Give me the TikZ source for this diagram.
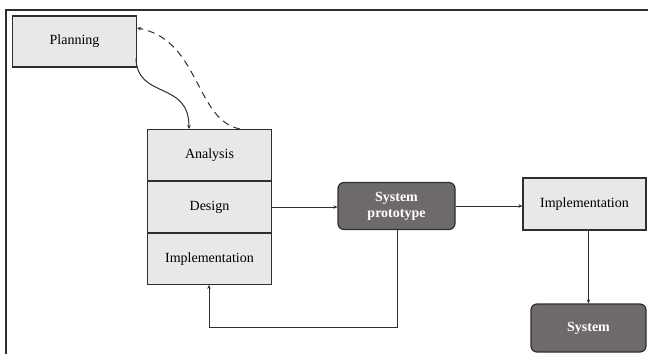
\documentclass[tikz,border=0pt]{standalone}
\usepackage{fontspec}
\setmainfont{Liberation Serif}
\usetikzlibrary{arrows.meta}
\definecolor{lightbox}{HTML}{E8E8E8}
\definecolor{darkbox}{HTML}{6E6A6A}
\definecolor{edge}{HTML}{2E2E2E}
\begin{document}
\begin{tikzpicture}[x=1pt,y=-1pt,
  lbox/.style={draw=edge,line width=1.2pt,fill=lightbox,inner sep=0pt,font=\fontsize{14}{16}\selectfont},
  dbox/.style={draw=edge,line width=1.2pt,fill=darkbox,rounded corners=6pt,inner sep=0pt,text=white,font=\bfseries\fontsize{14}{17}\selectfont,align=center},
  conn/.style={draw=edge,line width=1pt,-{Stealth[length=4pt,width=3.5pt]}},
  framel/.style={draw=edge,line width=1.4pt}]
\useasboundingbox (0,0) rectangle (648,354);
\draw[framel] (6,354) -- (6,10) -- (648,10);
\node[lbox,minimum width=124pt,minimum height=51pt] (plan) at (74.5,41.5) {Planning};
\node[lbox,minimum width=124pt,minimum height=51.5pt] (ana) at (209.5,155) {Analysis};
\node[lbox,minimum width=124pt,minimum height=51pt] (des) at (209.5,207) {Design};
\node[lbox,minimum width=124pt,minimum height=51pt] (imp) at (209.5,258.8) {Implementation};
\node[dbox,minimum width=117pt,minimum height=47pt] (proto) at (396.5,206) {System\\[-1pt]prototype};
\node[lbox,minimum width=123pt,minimum height=52pt] (imp2) at (584.5,204) {Implementation};
\node[dbox,minimum width=115pt,minimum height=48pt] (sys) at (588.5,328) {System};
\coordinate (c1) at (136,58);
\coordinate (c2) at (189,129);
\coordinate (d1) at (240,129);
\coordinate (d2) at (137,28);
\coordinate (lb) at (397,327);
\coordinate (la) at (209,327);
\draw[conn] (c1) .. controls (137,100) and (189,80) .. (c2);
\draw[conn,dashed,dash pattern=on 7pt off 5pt] (d1) .. controls (195,120) and (200,40) .. (d2);
\draw[conn] (des.east) -- (proto.west|-des.east);
\draw[conn] (proto.east) -- (imp2.west|-proto.east);
\draw[conn] (imp2.south-|sys.north) -- (sys.north);
\draw[conn] (proto.south-|lb) -- (lb) -- (la) -- (imp.south-|la);
\end{tikzpicture}
\end{document}
